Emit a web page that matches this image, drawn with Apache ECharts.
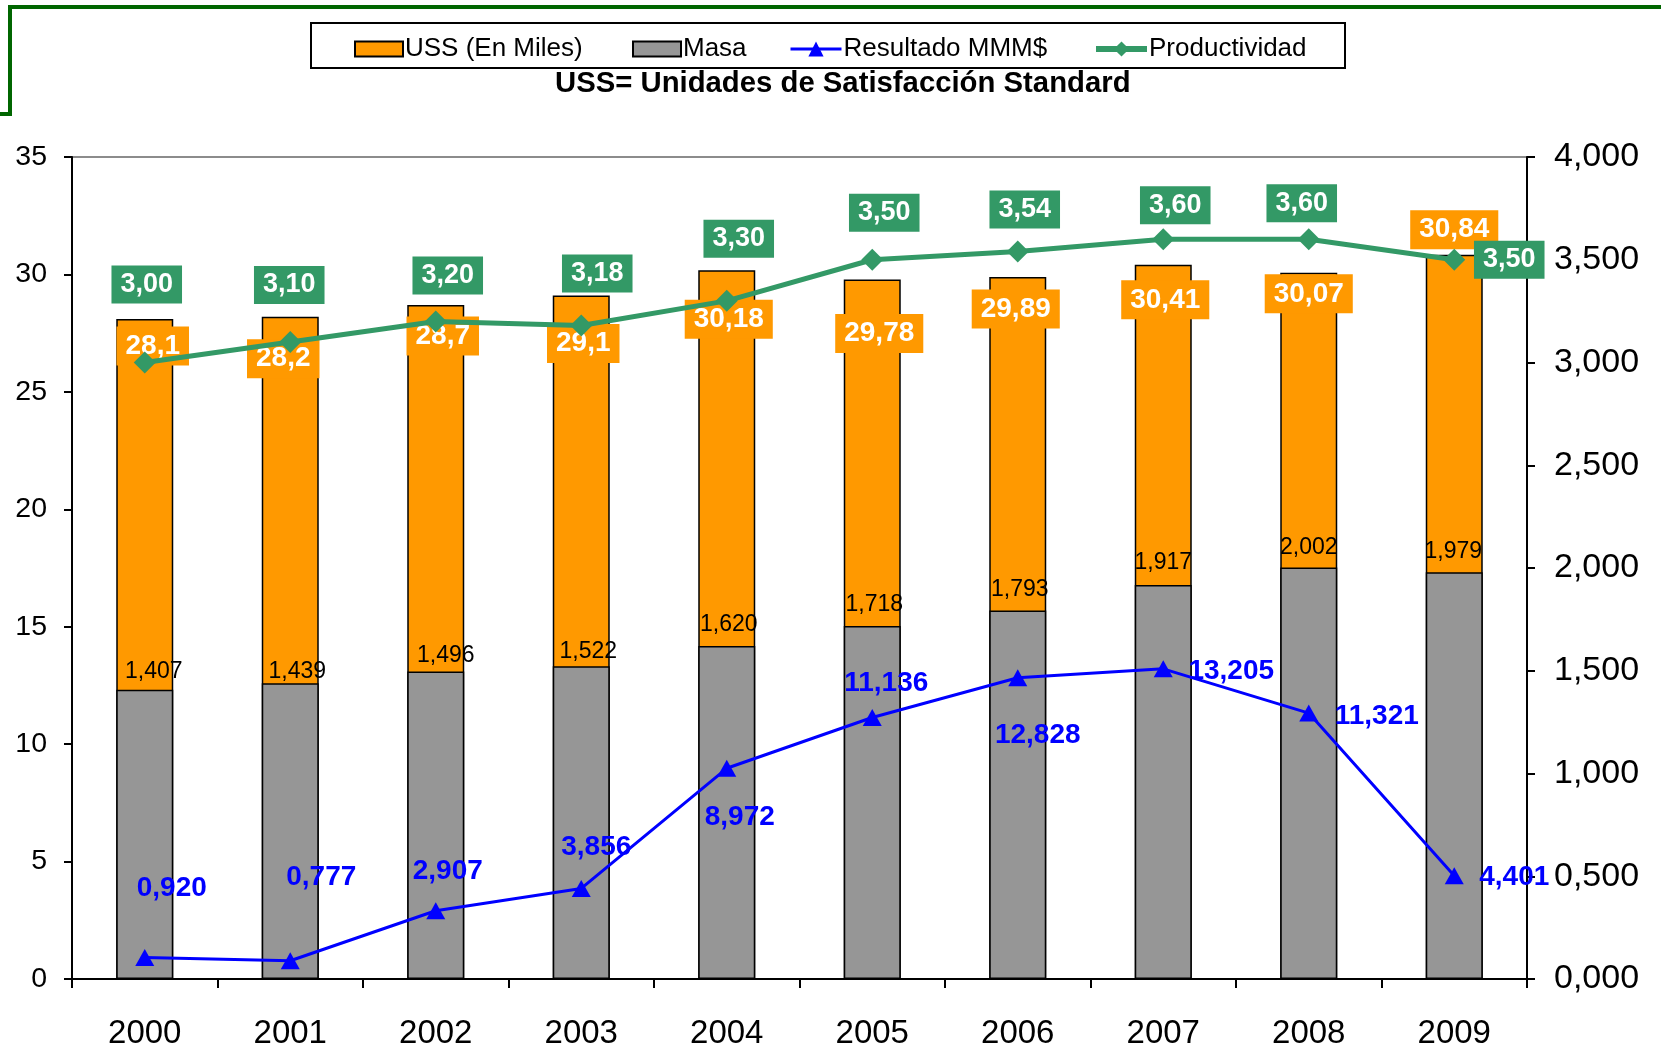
<!DOCTYPE html>
<html>
<head>
<meta charset="utf-8">
<script src="https://cdn.jsdelivr.net/npm/echarts@6/dist/echarts.min.js"></script>
<style>
  html, body { margin: 0; padding: 0; background: #fff; }
  #chart { width: 1661px; height: 1050px; }
</style>
</head>
<body>
<div id="chart"></div>
<script>
// data
const years = ["2000", "2001", "2002", "2003", "2004", "2005", "2006", "2007", "2008", "2009"];
const ussValues = [28.1, 28.2, 28.7, 29.1, 30.18, 29.78, 29.89, 30.41, 30.07, 30.84];
const masaValues = [1.407, 1.439, 1.496, 1.522, 1.62, 1.718, 1.793, 1.917, 2.002, 1.979];
const resultadoValues = [0.92, 0.777, 2.907, 3.856, 8.972, 11.136, 12.828, 13.205, 11.321, 4.401];
const productividadValues = [3.0, 3.1, 3.2, 3.18, 3.3, 3.5, 3.54, 3.6, 3.6, 3.5];
const seriesNames = ["USS (En Miles)", "Masa", "Resultado MMM$", "Productividad"];

// label nudges, Excel-style manual placement
const ussLabelDy = [27, 42, 31, 48, 49, 54, 32, 35, 21, -25];
const ussLabelDx = [8, -7, 7, 2, 2, 7, -2, 2, 0, 0];
const masaLabelDy = [-18, -12, -16, -15, -21, -21, -21, -22, -20, -21];
const masaLabelDx = [9, 7, 10, 7, 2, 2, 2, 0, 0, -1];
const resLabelOff = [[27, -69], [31, -83], [12, -39], [15, -41], [13, 49], [14, -34], [20, 58], [68, 2], [68, 3], [60, 2]];
const prodLabelOff = [[2, -78], [-1, -57], [12, -46], [16, -52], [12, -62], [12, -47], [7, -42], [12, -34], [-7, -36], [55, 0]];

// legend entries sit where Excel put them
const legendLeft = [354, 632, 789, 1093];
const legendLineWidth = [0, 0, 3, 6];

const FONT = "'Liberation Sans', Arial, sans-serif";
const comma = (v, d) => v.toFixed(d).replace(".", ",");

const chart = echarts.init(document.getElementById("chart"), null, { renderer: "canvas" });

const legends = seriesNames.map((name, i) => ({
  left: legendLeft[i],
  top: 36,
  padding: 0,
  itemWidth: i < 2 ? 48 : 51,
  itemHeight: i < 2 ? 15 : 19,
  itemGap: 0,
  selectedMode: false,
  textStyle: { fontSize: 26, color: "#000", padding: [0, 0, 0, -3] },
  data: [i < 2 ? { name, icon: "rect" } : { name, lineStyle: { width: legendLineWidth[i] } }],
}));

const option = {
  backgroundColor: "#fff",
  animation: false,
  textStyle: { fontFamily: FONT },
  graphic: [
    {
      type: "polyline",
      z: 0,
      shape: { points: [[0, 114], [10, 114], [10, 7], [1661, 7]] },
      style: { stroke: "#006600", lineWidth: 4, fill: null },
    },
    {
      type: "rect",
      z: 0,
      shape: { x: 311, y: 23, width: 1034, height: 45 },
      style: { stroke: "#000", lineWidth: 2, fill: "#fff" },
    },
  ],
  title: {
    text: "USS= Unidades de Satisfacción Standard",
    left: 555,
    top: 69,
    padding: 0,
    textStyle: { fontWeight: "bold", fontSize: 29.3, color: "#000" },
  },
  legend: legends,
  grid: {
    left: 72,
    right: 134,
    top: 157,
    bottom: 70,
    show: true,
    borderColor: "#8c8c8c",
    borderWidth: 2,
  },
  xAxis: {
    type: "category",
    data: years,
    axisLine: { lineStyle: { color: "#000", width: 2 } },
    axisTick: { show: true, length: 9, lineStyle: { color: "#000", width: 2 } },
    axisLabel: { fontSize: 33, color: "#000", margin: 38 },
  },
  yAxis: [
    {
      type: "value",
      min: 0,
      max: 35,
      interval: 5,
      axisLine: { show: true, lineStyle: { color: "#000", width: 2 } },
      axisTick: { show: true, length: 8, lineStyle: { color: "#000", width: 2 } },
      splitLine: { show: false },
      axisLabel: { fontSize: 28.5, color: "#000", margin: 25 },
    },
    {
      type: "value",
      position: "right",
      min: 0,
      max: 4,
      interval: 0.5,
      axisLine: { show: true, lineStyle: { color: "#000", width: 2 } },
      axisTick: { show: true, length: 8, lineStyle: { color: "#000", width: 2 } },
      splitLine: { show: false },
      axisLabel: { fontSize: 34, color: "#000", margin: 27, formatter: (v) => comma(v, 3) },
    },
  ],
  series: [
    {
      name: seriesNames[0],
      type: "bar",
      yAxisIndex: 0,
      barWidth: 57,
      itemStyle: { color: "#FF9900", borderColor: "#000", borderWidth: 1.5 },
      label: {
        show: true,
        color: "#fff",
        fontWeight: "bold",
        fontSize: 28,
        backgroundColor: "#FF9900",
        padding: [6, 9, 5, 9],
        align: "center",
        verticalAlign: "middle",
        formatter: (p) => String(p.value).replace(".", ","),
      },
      z: 2,
      data: ussValues.map((v, i) => ({
        value: v,
        label: { position: ["50%", ussLabelDy[i]], offset: [ussLabelDx[i], 0] },
      })),
    },
    {
      name: seriesNames[1],
      type: "bar",
      yAxisIndex: 1,
      barWidth: 57,
      barGap: "-100%",
      itemStyle: { color: "#969696", borderColor: "#000", borderWidth: 1.5 },
      label: {
        show: true,
        color: "#000",
        fontSize: 23,
        align: "center",
        verticalAlign: "middle",
        formatter: (p) => comma(p.value, 3),
      },
      z: 2,
      data: masaValues.map((v, i) => ({
        value: v,
        label: { position: ["50%", masaLabelDy[i]], offset: [masaLabelDx[i], 0] },
      })),
    },
    {
      name: seriesNames[2],
      type: "line",
      yAxisIndex: 0,
      symbol: "triangle",
      symbolSize: [19, 17],
      lineStyle: { color: "#0000FF", width: 3 },
      itemStyle: { color: "#0000FF" },
      label: {
        show: true,
        position: "inside",
        color: "#0000FF",
        fontWeight: "bold",
        fontSize: 28,
        formatter: (p) => comma(p.value, 3),
      },
      z: 3,
      data: resultadoValues.map((v, i) => ({ value: v, label: { offset: resLabelOff[i] } })),
    },
    {
      name: seriesNames[3],
      type: "line",
      yAxisIndex: 1,
      symbol: "diamond",
      symbolSize: 22,
      lineStyle: { color: "#339966", width: 5 },
      itemStyle: { color: "#339966" },
      label: {
        show: true,
        position: "inside",
        color: "#fff",
        fontWeight: "bold",
        fontSize: 27,
        backgroundColor: "#339966",
        padding: [6, 9, 5, 9],
        formatter: (p) => comma(p.value, 2),
      },
      z: 4,
      data: productividadValues.map((v, i) => ({ value: v, label: { offset: prodLabelOff[i] } })),
    },
  ],
};

chart.setOption(option);
</script>
</body>
</html>
